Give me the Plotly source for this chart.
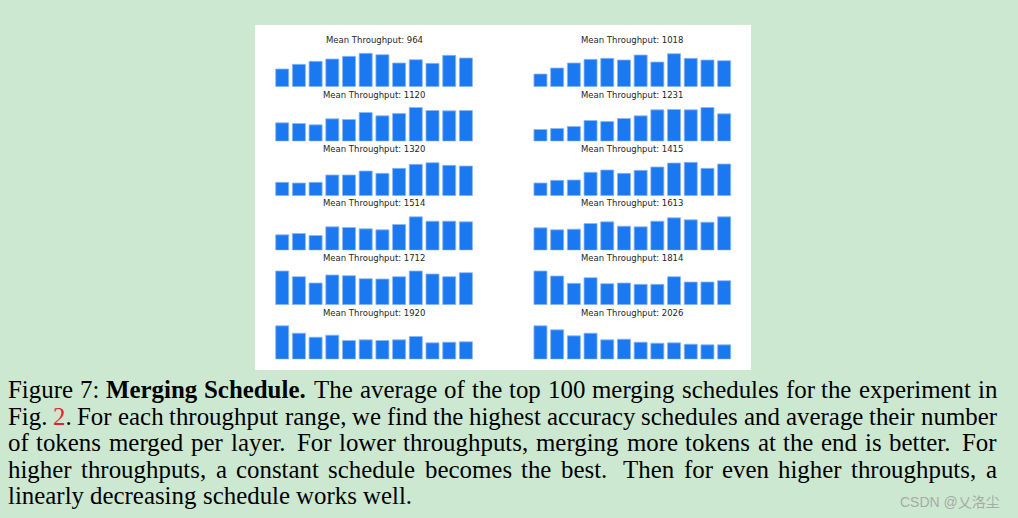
import plotly.graph_objects as go

W, H = 1018, 518

# ---------------- data (relative tokens merged per layer) -------------
layers = list(range(1, 13))
throughput_left = [964, 1120, 1320, 1514, 1712, 1920]
throughput_right = [1018, 1231, 1415, 1613, 1814, 2026]

tokens_964 = [53, 67, 76, 83, 91, 100, 96, 71, 81, 70, 94, 86]
tokens_1018 = [38, 56, 71, 82, 85, 80, 95, 74, 99, 85, 80, 78]
tokens_1120 = [55, 53, 49, 67, 65, 86, 76, 83, 101, 92, 91, 92]
tokens_1231 = [35, 38, 44, 62, 59, 68, 76, 94, 95, 94, 101, 82]
tokens_1320 = [40, 38, 40, 62, 62, 74, 67, 82, 94, 99, 91, 89]
tokens_1415 = [38, 46, 47, 70, 77, 67, 76, 86, 98, 100, 82, 95]
tokens_1514 = [46, 50, 44, 70, 68, 64, 61, 77, 100, 87, 87, 85]
tokens_1613 = [67, 61, 63, 80, 85, 72, 70, 87, 97, 91, 84, 100]
tokens_1712 = [101, 84, 65, 89, 87, 78, 77, 84, 101, 92, 84, 96]
tokens_1814 = [101, 86, 64, 81, 63, 65, 61, 61, 84, 68, 68, 72]
tokens_1920 = [100, 78, 66, 72, 56, 58, 56, 58, 68, 49, 51, 52]
tokens_2026 = [100, 88, 70, 78, 58, 60, 51, 48, 49, 45, 43, 43]

schedules = {
    964: tokens_964, 1018: tokens_1018, 1120: tokens_1120, 1231: tokens_1231,
    1320: tokens_1320, 1415: tokens_1415, 1514: tokens_1514, 1613: tokens_1613,
    1712: tokens_1712, 1814: tokens_1814, 1920: tokens_1920, 2026: tokens_2026,
}

caption_lines = [
    "Figure 7: **Merging **Schedule. The average of the top 100 merging schedules for the experiment in",
    "Fig. @2. For each throughput range, we find the highest accuracy schedules and average their number",
    "of tokens merged per layer. For lower throughputs, merging more tokens at the end is better. For",
    "higher throughputs, a constant schedule becomes the best. Then for even higher throughputs, a",
    "linearly decreasing schedule works well.",
]
watermark = "CSDN @乂洛尘"

# ---------------- style / geometry ----------------
BG = "#cde8d0"
BAR = "#1a78f0"
BAR_EDGE = "#8db8f3"
col_domains = [(273.85, 474.25), (532.1, 732.5)]
baselines = [86.7, 141.2, 195.7, 250.2, 304.7, 359.2]
AX_H = 35.0

fig = go.Figure()
layout = dict(
    width=W, height=H, margin=dict(l=0, r=0, t=0, b=0),
    paper_bgcolor=BG, plot_bgcolor="rgba(0,0,0,0)",
    bargap=0.22, showlegend=False,
    shapes=[dict(type="rect", xref="paper", yref="paper",
                 x0=255 / W, x1=751 / W, y0=1 - 370 / H, y1=1 - 25 / H,
                 fillcolor="white", line=dict(width=0), layer="below")],
)
annotations = []

n = 0
for c, tps in enumerate([throughput_left, throughput_right]):
    for r, tp in enumerate(tps):
        n += 1
        sx = "" if n == 1 else str(n)
        fig.add_trace(go.Bar(
            x=layers, y=schedules[tp], xaxis="x" + sx, yaxis="y" + sx,
            marker=dict(color=BAR, line=dict(color=BAR_EDGE, width=0.8)),
            hoverinfo="skip"))
        l, rr = col_domains[c]
        b = baselines[r]
        layout["xaxis" + sx] = dict(domain=[l / W, rr / W], range=[0.5, 12.5],
                                    visible=False, fixedrange=True, anchor="y" + sx)
        layout["yaxis" + sx] = dict(domain=[1 - b / H, 1 - (b - AX_H) / H], range=[0, 105],
                                    visible=False, fixedrange=True, anchor="x" + sx)
        annotations.append(dict(
            text=f"Mean Throughput: {tp}", xref="paper", yref="paper",
            x=(l + rr) / 2 / W, y=1 - (b - 46.7) / H, xanchor="center", yanchor="middle",
            showarrow=False, font=dict(family="DejaVu Sans", size=8.5, color="#262626")))

# ---------------- caption (justified, Times metrics) ----------------
REG = dict(zip("abcdefghijklmnopqrstuvwxyz",
               [444, 500, 444, 500, 444, 333, 500, 500, 278, 278, 500, 278, 778, 500,
                500, 500, 500, 333, 389, 278, 500, 500, 722, 500, 500, 444]))
REG.update({"F": 556, "M": 889, "S": 556, "T": 611, ".": 250, ",": 250, ":": 278})
REG.update({d: 500 for d in "0123456789"})
BOLD = dict(REG)
BOLD.update({"M": 944, "r": 444, "n": 556, "h": 556, "d": 556, "u": 556})

FS = 24.9
X0, X1 = 8.0, 997.0
line_base0, line_step = 398.4, 26.4
SPACE = 0.25 * FS


def width(word, bold):
    tbl = BOLD if bold else REG
    return sum(tbl.get(ch, 500) for ch in word) * FS / 1000.0


for li, line in enumerate(caption_lines):
    raw = line.split(" ")
    toks = []
    for w in raw:
        bold = w.startswith("**")
        red = w.startswith("@")
        word = w.lstrip("*@")
        if bold:
            html = f"<b>{word}</b>"
        elif red:
            html = f'<span style="color:#e8202a">{word[0]}</span>{word[1:]}'
        else:
            html = word
        toks.append((html, width(word, bold), word))
    justified = li < len(caption_lines) - 1
    stretch = []
    for i in range(len(toks) - 1):
        wd = toks[i][2]
        stretch.append(3.0 if (wd.endswith(".") and wd != "Fig.") else 1.0)
    total_w = sum(t[1] for t in toks) + SPACE * len(stretch)
    extra = (X1 - X0 - total_w) / sum(stretch) if justified else 0.0
    x = X0
    ypx = line_base0 + li * line_step - 0.3375 * FS
    for i, (html, wpx, _) in enumerate(toks):
        annotations.append(dict(
            text=html, xref="paper", yref="paper", x=x / W, y=1 - ypx / H,
            xanchor="left", yanchor="middle", showarrow=False, borderpad=0, borderwidth=0,
            font=dict(family="Liberation Serif", size=FS, color="#000000")))
        x += wpx
        if i < len(stretch):
            x += SPACE + extra * stretch[i]

annotations.append(dict(
    text=watermark, xref="paper", yref="paper", x=1002 / W, y=1 - 502 / H,
    xanchor="right", yanchor="middle", showarrow=False,
    font=dict(family="Liberation Sans, Noto Sans CJK SC", size=14, color="#a3ada5")))

layout["annotations"] = annotations
fig.update_layout(**layout)
fig.write_html("out.html", config={"displayModeBar": False},
               post_script="document.body.style.margin='0';document.body.style.overflow='hidden';")
